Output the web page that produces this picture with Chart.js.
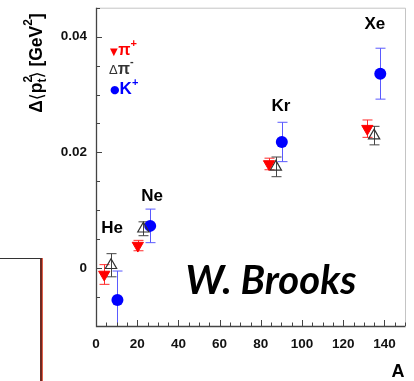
<!DOCTYPE html>
<html>
<head>
<meta charset="utf-8">
<script src="https://cdn.jsdelivr.net/npm/chart.js@4.4.1/dist/chart.umd.min.js"></script>
<style>
  html, body { margin: 0; padding: 0; background: #fff; }
  #wrap { position: relative; width: 414px; height: 381px; overflow: hidden; }
  #box {
    position: absolute; left: -2px; top: 258px; width: 42px; height: 140px;
    border-top: 1px solid #333; border-right: 2px solid #6e2a22;
    box-shadow: 1px 0 0 #e0604a;
  }
  #sig {
    position: absolute; left: 271px; top: 279px; transform: translate(-50%, -50%);
    font: italic bold 40px Lato, "Open Sans", sans-serif; color: #000; white-space: nowrap;
  }
</style>
</head>
<body>
<div id="wrap">
  <canvas id="chart" width="414" height="381"></canvas>
  <div id="box"></div>
  <div id="sig">W. Brooks</div>
</div>
<script>
// Nuclear targets
const nuclei = ['He', 'Ne', 'Kr', 'Xe'];
const nucleusLabelA = [7.8, 27.2, 89.8, 135.4];
const nucleusLabelY = [0.0068, 0.0124, 0.0279, 0.0421];

// pi+ (red, down triangles)
const piPlusA = [4.0, 20.3, 84.0, 131.7];
const piPlusVal = [-0.0011, 0.0039, 0.0180, 0.0241];
const piPlusErr = [0.0017, 0.0009, 0.0010, 0.0015];

// pi- (open triangles)
const piMinusA = [7.3, 23.0, 87.3, 135.0];
const piMinusVal = [0.0005, 0.0068, 0.0175, 0.0229];
const piMinusErr = [0.0020, 0.0012, 0.0017, 0.0016];

// K+ (blue circles)
const kPlusA = [10.4, 26.3, 90.2, 138.0];
const kPlusVal = [-0.0055, 0.0073, 0.0218, 0.0336];
const kPlusErr = [0.0050, 0.0029, 0.0034, 0.0044];

// Tick labels
const xMajor = [0, 20, 40, 60, 80, 100, 120, 140];
const xMajorLabels = ['0', '20', '40', '60', '80', '100', '120', '140'];
const yMajor = [0, 0.02, 0.04];
const yMajorLabels = ['0', '0.02', '0.04'];

const toPoints = (a, v, e) => a.map((x, i) => ({ x: x, y: v[i], err: e[i] }));

const majorLabel = (val, majors, labels) => {
  const i = majors.findIndex(m => Math.abs(m - val) < 1e-9);
  return i >= 0 ? labels[i] : '';
};

const BOLD = '"Liberation Sans", Arial, "DejaVu Sans", sans-serif';

// Draw a list of text runs side by side
const drawRuns = (ctx, x, y, runs) => {
  runs.forEach(r => {
    ctx.font = r.font;
    ctx.fillStyle = r.color;
    ctx.fillText(r.t, x, y + (r.dy || 0));
    if (!r.noAdvance) x += ctx.measureText(r.t).width;
  });
  return x;
};

// Error bars with caps
const errorBars = {
  id: 'errorBars',
  beforeDatasetsDraw(chart) {
    const { ctx, chartArea, scales: { x, y } } = chart;
    ctx.save();
    ctx.beginPath();
    ctx.rect(chartArea.left, chartArea.top, chartArea.width, chartArea.height);
    ctx.clip();
    chart.data.datasets.forEach(ds => {
      ctx.strokeStyle = ds.errColor;
      ctx.lineWidth = 1;
      ds.data.forEach(p => {
        const px = Math.round(x.getPixelForValue(p.x)) + 0.5;
        const top = y.getPixelForValue(p.y + p.err);
        const bot = y.getPixelForValue(p.y - p.err);
        ctx.beginPath();
        ctx.moveTo(px, top); ctx.lineTo(px, bot);
        ctx.moveTo(px - 5, top); ctx.lineTo(px + 5, top);
        ctx.moveTo(px - 5, bot); ctx.lineTo(px + 5, bot);
        ctx.stroke();
      });
    });
    ctx.restore();
  }
};

// Frame, inward ticks, titles, labels and legend
const decorations = {
  id: 'decorations',
  afterDraw(chart) {
    const { ctx, chartArea: a, scales: { x, y } } = chart;
    ctx.save();

    // frame
    ctx.lineWidth = 1;
    ctx.strokeStyle = '#c4c4c4';
    ctx.beginPath();
    ctx.moveTo(a.left, a.top + 0.5); ctx.lineTo(a.right + 0.5, a.top + 0.5);
    ctx.lineTo(a.right + 0.5, a.bottom);
    ctx.stroke();
    ctx.strokeStyle = '#444';
    ctx.lineWidth = 1.3;
    ctx.beginPath();
    ctx.moveTo(a.left + 0.5, a.top); ctx.lineTo(a.left + 0.5, a.bottom + 0.5);
    ctx.lineTo(a.right + 0.5, a.bottom + 0.5);
    ctx.stroke();

    // ticks
    ctx.lineWidth = 1;
    ctx.strokeStyle = '#444';
    ctx.beginPath();
    x.ticks.forEach(t => {
      const px = Math.round(x.getPixelForValue(t.value)) + 0.5;
      const len = t.label ? 6 : 3.5;
      ctx.moveTo(px, a.bottom); ctx.lineTo(px, a.bottom - len);
    });
    y.ticks.forEach(t => {
      const py = Math.round(y.getPixelForValue(t.value)) + 0.5;
      const len = t.label ? 6 : 4;
      ctx.moveTo(a.left, py); ctx.lineTo(a.left + len, py);
    });
    ctx.stroke();

    // nucleus labels
    ctx.fillStyle = '#000';
    ctx.font = 'bold 17px ' + BOLD;
    ctx.textAlign = 'center';
    ctx.textBaseline = 'middle';
    nuclei.forEach((n, i) => {
      ctx.fillText(n, x.getPixelForValue(nucleusLabelA[i]), y.getPixelForValue(nucleusLabelY[i]));
    });

    // x title
    ctx.font = 'bold 18px ' + BOLD;
    ctx.fillText('A', 398, 372);

    // legend
    ctx.textAlign = 'left';
    ctx.textBaseline = 'alphabetic';
    const big = 'bold 16px ' + BOLD;
    const sup = 'bold 11px ' + BOLD;
    drawRuns(ctx, 110, 55, [
      { t: '\u25BC', font: '10px "DejaVu Sans"', color: '#f00', dy: 0 },
      { t: ' ', font: '2px sans-serif', color: '#f00' },
      { t: '\u03C0', font: big, color: '#f00' },
      { t: '+', font: sup, color: '#f00', dy: -8 }
    ]);
    drawRuns(ctx, 109, 74, [
      { t: '\u0394', font: '13px "Liberation Sans"', color: '#333' },
      { t: '\u03C0', font: big, color: '#333' },
      { t: '-', font: sup, color: '#333', dy: -9 }
    ]);
    drawRuns(ctx, 110, 94, [
      { t: '\u25CF', font: '11px "DejaVu Sans"', color: '#0000ff', dy: -1 },
      { t: 'K', font: 'bold 17px ' + BOLD, color: '#0000ff' },
      { t: '+', font: sup, color: '#0000ff', dy: -8 }
    ]);

    // y title, rotated
    ctx.translate(41.5, 63);
    ctx.rotate(-Math.PI / 2);
    const main = 'bold 17.5px ' + BOLD;
    const small = 'bold 12px ' + BOLD;
    const thin = '18px "DejaVu Sans"';
    const runs = [
      { t: '\u0394', font: main, color: '#000' },
      { t: '\u27E8', font: thin, color: '#000', dy: 1 },
      { t: 'p', font: main, color: '#000' },
      { t: '2', font: small, color: '#000', dy: -10, noAdvance: true },
      { t: 't', font: small, color: '#000', dy: 4 },
      { t: '\u27E9', font: thin, color: '#000', dy: 1 },
      { t: ' [GeV', font: main, color: '#000' },
      { t: '2', font: small, color: '#000', dy: -10 },
      { t: ']', font: main, color: '#000' }
    ];
    let w = 0;
    runs.forEach(r => { ctx.font = r.font; if (!r.noAdvance) w += ctx.measureText(r.t).width; });
    drawRuns(ctx, -w / 2, 0, runs);

    ctx.restore();
  }
};

const ctx = document.getElementById('chart').getContext('2d');
new Chart(ctx, {
  type: 'scatter',
  data: {
    datasets: [
      {
        label: '\u03C0+',
        data: toPoints(piPlusA, piPlusVal, piPlusErr),
        pointStyle: 'triangle', rotation: 180, pointRadius: 6.5,
        backgroundColor: '#ff0000', borderColor: '#ff0000', borderWidth: 1,
        errColor: '#ff2a2a'
      },
      {
        label: '\u03C0-',
        data: toPoints(piMinusA, piMinusVal, piMinusErr),
        pointStyle: 'triangle', pointRadius: 6.5,
        backgroundColor: 'rgba(0,0,0,0)', borderColor: '#333', borderWidth: 1.2,
        errColor: '#444'
      },
      {
        label: 'K+',
        data: toPoints(kPlusA, kPlusVal, kPlusErr),
        pointStyle: 'circle', pointRadius: 6,
        backgroundColor: '#0000ff', borderColor: '#0000ff', borderWidth: 0,
        errColor: '#5a5aff'
      }
    ]
  },
  options: {
    responsive: false,
    animation: false,
    devicePixelRatio: 1,
    layout: { padding: { top: 7, right: 9, left: 0, bottom: 0 } },
    plugins: { legend: { display: false }, tooltip: { enabled: false } },
    scales: {
      x: {
        type: 'linear', min: 0, max: 150,
        afterFit: s => { s.height = 55; s.paddingLeft = 0; s.paddingRight = 0; },
        grid: { display: false, drawTicks: false },
        border: { display: false },
        ticks: {
          stepSize: 5, autoSkip: false, maxRotation: 0, padding: 10,
          color: '#111', font: { family: BOLD, size: 13.5, weight: 'bold' },
          callback: v => majorLabel(v, xMajor, xMajorLabels)
        }
      },
      y: {
        type: 'linear', min: -0.01, max: 0.045,
        afterFit: s => { s.width = 96; s.paddingTop = 0; s.paddingBottom = 0; },
        grid: { display: false, drawTicks: false },
        border: { display: false },
        ticks: {
          stepSize: 0.005, autoSkip: false, padding: 9,
          color: '#111', font: { family: BOLD, size: 13.5, weight: 'bold' },
          callback: v => majorLabel(v, yMajor, yMajorLabels)
        }
      }
    }
  },
  plugins: [errorBars, decorations]
});
</script>
</body>
</html>
